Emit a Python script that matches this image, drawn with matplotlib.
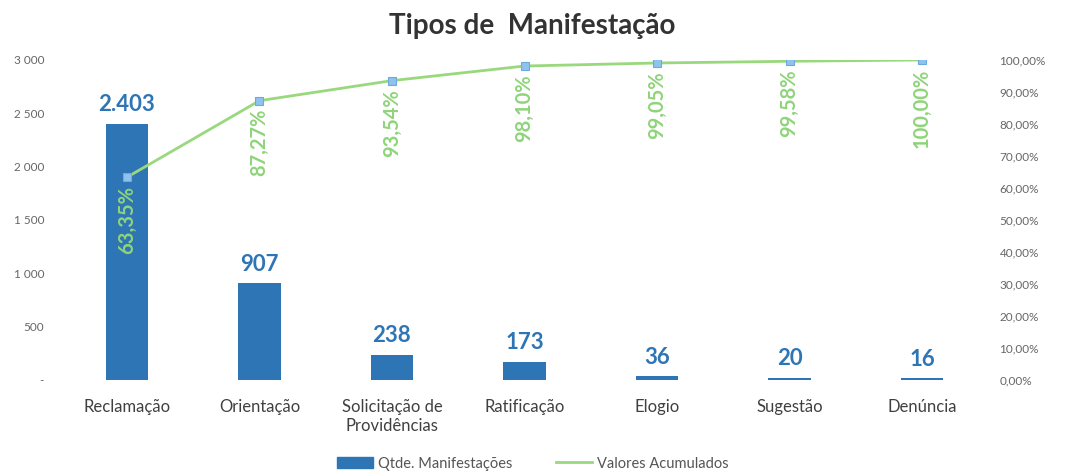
import matplotlib.pyplot as plt

plt.rcParams['font.family'] = ['Lato', 'DejaVu Sans']

categorias = ['Reclamação', 'Orientação', 'Solicitação de\nProvidências', 'Ratificação',
              'Elogio', 'Sugestão', 'Denúncia']
qtde = [2403, 907, 238, 173, 36, 20, 16]
acumulado = [63.35, 87.27, 93.54, 98.10, 99.05, 99.58, 100.00]

left_ticks = [0, 500, 1000, 1500, 2000, 2500, 3000]
left_labels = ['-', '500', '1 000', '1 500', '2 000', '2 500', '3 000']
right_ticks = [0, 10, 20, 30, 40, 50, 60, 70, 80, 90, 100]

bar_color = '#2e75b6'
line_color = '#9ad87e'
label_green = '#8fd47a'

fig = plt.figure(figsize=(10.65, 4.72), dpi=100)
ax = fig.add_axes([0.057, 0.195, 0.871, 0.678])
x = list(range(len(categorias)))

ax.bar(x, qtde, width=0.32, color=bar_color, zorder=2)
for xi, v in zip(x, qtde):
    txt = f'{v:,}'.replace(',', '.')
    ax.annotate(txt, (xi, v), xytext=(0, 6), textcoords='offset points',
                ha='center', va='bottom', fontsize=16, fontweight='bold', color=bar_color)

ax.set_xlim(-0.5, len(categorias) - 0.5)
ax.set_ylim(0, 3000)
ax.set_yticks(left_ticks)
ax.set_yticklabels(left_labels, fontsize=8.5, color='#666666')
ax.set_xticks(x)
ax.set_xticklabels(categorias, fontsize=12, color='#404040')
ax.tick_params(length=0)
ax.tick_params(axis='x', pad=14)
ax.tick_params(axis='y', pad=12)
for s in ax.spines.values():
    s.set_visible(False)

ax2 = ax.twinx()
ax2.plot(x, acumulado, color=line_color, lw=2, zorder=3)
ax2.plot(x, acumulado, 's', ms=6, color='#8ec3ee', mec='#6fa8dc', mew=0.8, zorder=4)
for xi, p in zip(x, acumulado):
    ax2.annotate(f'{p:.2f}%'.replace('.', ','), (xi, p), xytext=(0, -6), textcoords='offset points',
                 ha='center', va='top', rotation=90, fontsize=14.5, fontweight='bold', color=label_green)
ax2.set_ylim(0, 100)
ax2.set_yticks(right_ticks)
ax2.set_yticklabels([f'{t},00%' for t in right_ticks], fontsize=8.5, color='#666666')
ax2.tick_params(length=0, pad=8)
for s in ax2.spines.values():
    s.set_visible(False)

fig.text(0.5, 0.945, 'Tipos de  Manifestação', ha='center', va='center',
         fontsize=20, fontweight='bold', color='#333333')

h1 = plt.Rectangle((0, 0), 1, 1, color=bar_color)
h2 = plt.Line2D([], [], color=line_color, lw=2)
fig.legend([h1, h2], ['Qtde. Manifestações', 'Valores Acumulados'], loc='center',
           bbox_to_anchor=(0.5, 0.018), ncol=2, frameon=False, fontsize=10.5,
           handlelength=2.5, handletextpad=0.3, columnspacing=3, labelcolor='#555555')

fig.savefig('out.png', dpi=100)
